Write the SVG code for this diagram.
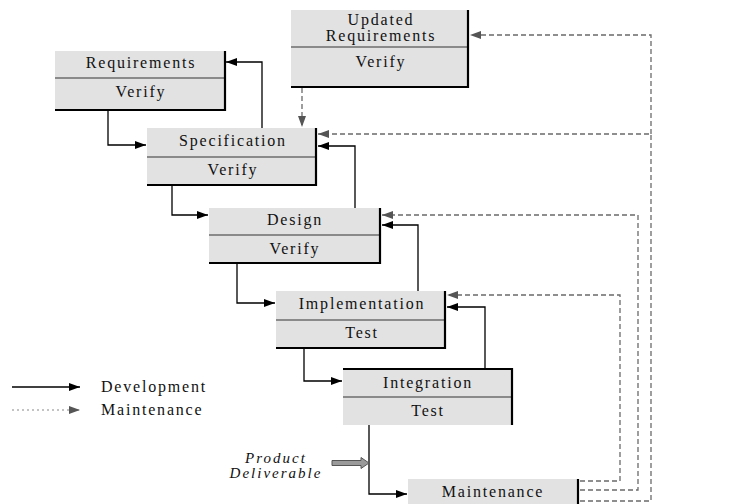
<svg xmlns="http://www.w3.org/2000/svg" width="731" height="504" viewBox="0 0 731 504">
  <style>
    .box { fill: #e2e2e2; }
    .edge { stroke: #000; stroke-width: 2.2; fill: none; }
    .div { stroke: #333; stroke-width: 1.2; }
    .lbl { font-family: "Liberation Serif", "Times New Roman", serif; font-size: 16px; letter-spacing: 1.8px; fill: #111; text-anchor: middle; }
    .dev { stroke: #000; stroke-width: 1.3; fill: none; marker-end: url(#solid); }
    .mnt { stroke: #6a6a6a; stroke-width: 1.3; fill: none; stroke-dasharray: 5 3; marker-end: url(#grey); }
    .note { font-family: "Liberation Serif", "Times New Roman", serif; font-size: 15px; font-style: italic; letter-spacing: 2px; fill: #111; text-anchor: middle; }
  </style>
  <defs>
    <marker id="solid" markerUnits="userSpaceOnUse" markerWidth="12" markerHeight="10" refX="11" refY="5" orient="auto">
      <path d="M0,1 L11,5 L0,9 Z" fill="#000"/>
    </marker>
    <marker id="grey" markerUnits="userSpaceOnUse" markerWidth="12" markerHeight="10" refX="11" refY="5" orient="auto">
      <path d="M0,1 L11,5 L0,9 Z" fill="#555"/>
    </marker>
  </defs>

  <rect width="731" height="504" fill="#fff"/>

  <!-- phase boxes -->
  <g id="updated-requirements">
    <rect class="box" x="291" y="10" width="177" height="77"/>
    <line class="div" x1="291" y1="47" x2="468" y2="47"/>
    <path class="edge" d="M468 10 V87 H291"/>
    <text class="lbl" x="381" y="25">Updated</text>
    <text class="lbl" x="381" y="41">Requirements</text>
    <text class="lbl" x="381" y="67">Verify</text>
  </g>

  <g id="requirements">
    <rect class="box" x="55" y="51" width="170" height="59"/>
    <line class="div" x1="55" y1="78" x2="225" y2="78"/>
    <path class="edge" d="M225 51 V110 H55"/>
    <text class="lbl" x="141" y="68">Requirements</text>
    <text class="lbl" x="141" y="97">Verify</text>
  </g>

  <g id="specification">
    <rect class="box" x="147" y="128" width="169" height="57"/>
    <line class="div" x1="147" y1="157" x2="316" y2="157"/>
    <path class="edge" d="M316 128 V185 H147"/>
    <text class="lbl" x="233" y="146">Specification</text>
    <text class="lbl" x="233" y="175">Verify</text>
  </g>

  <g id="design">
    <rect class="box" x="209" y="208" width="171" height="55"/>
    <line class="div" x1="209" y1="235" x2="380" y2="235"/>
    <path class="edge" d="M380 208 V263 H209"/>
    <text class="lbl" x="295" y="225">Design</text>
    <text class="lbl" x="295" y="254">Verify</text>
  </g>

  <g id="implementation">
    <rect class="box" x="276" y="291" width="169" height="57"/>
    <line class="div" x1="276" y1="320" x2="445" y2="320"/>
    <path class="edge" d="M445 291 V348 H276"/>
    <text class="lbl" x="362" y="309">Implementation</text>
    <text class="lbl" x="362" y="338">Test</text>
  </g>

  <g id="integration">
    <rect class="box" x="343" y="369" width="169" height="56"/>
    <line class="div" x1="343" y1="397" x2="512" y2="397"/>
    <path class="edge" d="M343 369 H512 V425"/>
    <text class="lbl" x="428" y="388">Integration</text>
    <text class="lbl" x="428" y="416">Test</text>
  </g>

  <g id="maintenance">
    <rect class="box" x="408" y="479" width="170" height="30"/>
    <line class="edge" x1="578" y1="479" x2="578" y2="504"/>
    <text class="lbl" x="493" y="497">Maintenance</text>
  </g>

  <!-- connectors -->
  <g id="connectors">
    <path class="dev" d="M108 110 V145 H146"/>
    <path class="dev" d="M262 128 V62 H226"/>
    <path class="dev" d="M172 185 V215 H208"/>
    <path class="dev" d="M355 208 V146 H318"/>
    <path class="dev" d="M237 263 V303 H275"/>
    <path class="dev" d="M418 291 V225 H382"/>
    <path class="dev" d="M304 348 V381 H342"/>
    <path class="dev" d="M485 369 V307 H447"/>
    <path class="dev" d="M369 425 V494 H407"/>

    <path class="mnt" d="M580 481 H620 V295 H447"/>
    <path class="mnt" d="M580 490 H638 V215 H382"/>
    <path class="mnt" d="M580 501 H651 V134 H318"/>
    <path class="mnt" d="M651 134 V35 H470"/>
    <path class="mnt" d="M302 88 V127"/>

    <!-- product deliverable block arrow -->
    <path d="M332 460.5 H361 V457.5 L369 463 L361 468.5 V465.5 H332 Z" fill="#9a9a9a" stroke="#555" stroke-width="1"/>
  </g>

  <text class="note" x="276" y="463">Product</text>
  <text class="note" x="276" y="478">Deliverable</text>

  <!-- legend -->
  <g id="legend">
    <line x1="12" y1="387" x2="80" y2="387" stroke="#000" stroke-width="1.3" marker-end="url(#solid)"/>
    <line x1="12" y1="410" x2="80" y2="410" stroke="#888" stroke-width="1.2" stroke-dasharray="2 3" marker-end="url(#grey)"/>
    <text class="lbl" x="101" y="392" style="text-anchor:start">Development</text>
    <text class="lbl" x="101" y="415" style="text-anchor:start">Maintenance</text>
  </g>
</svg>
